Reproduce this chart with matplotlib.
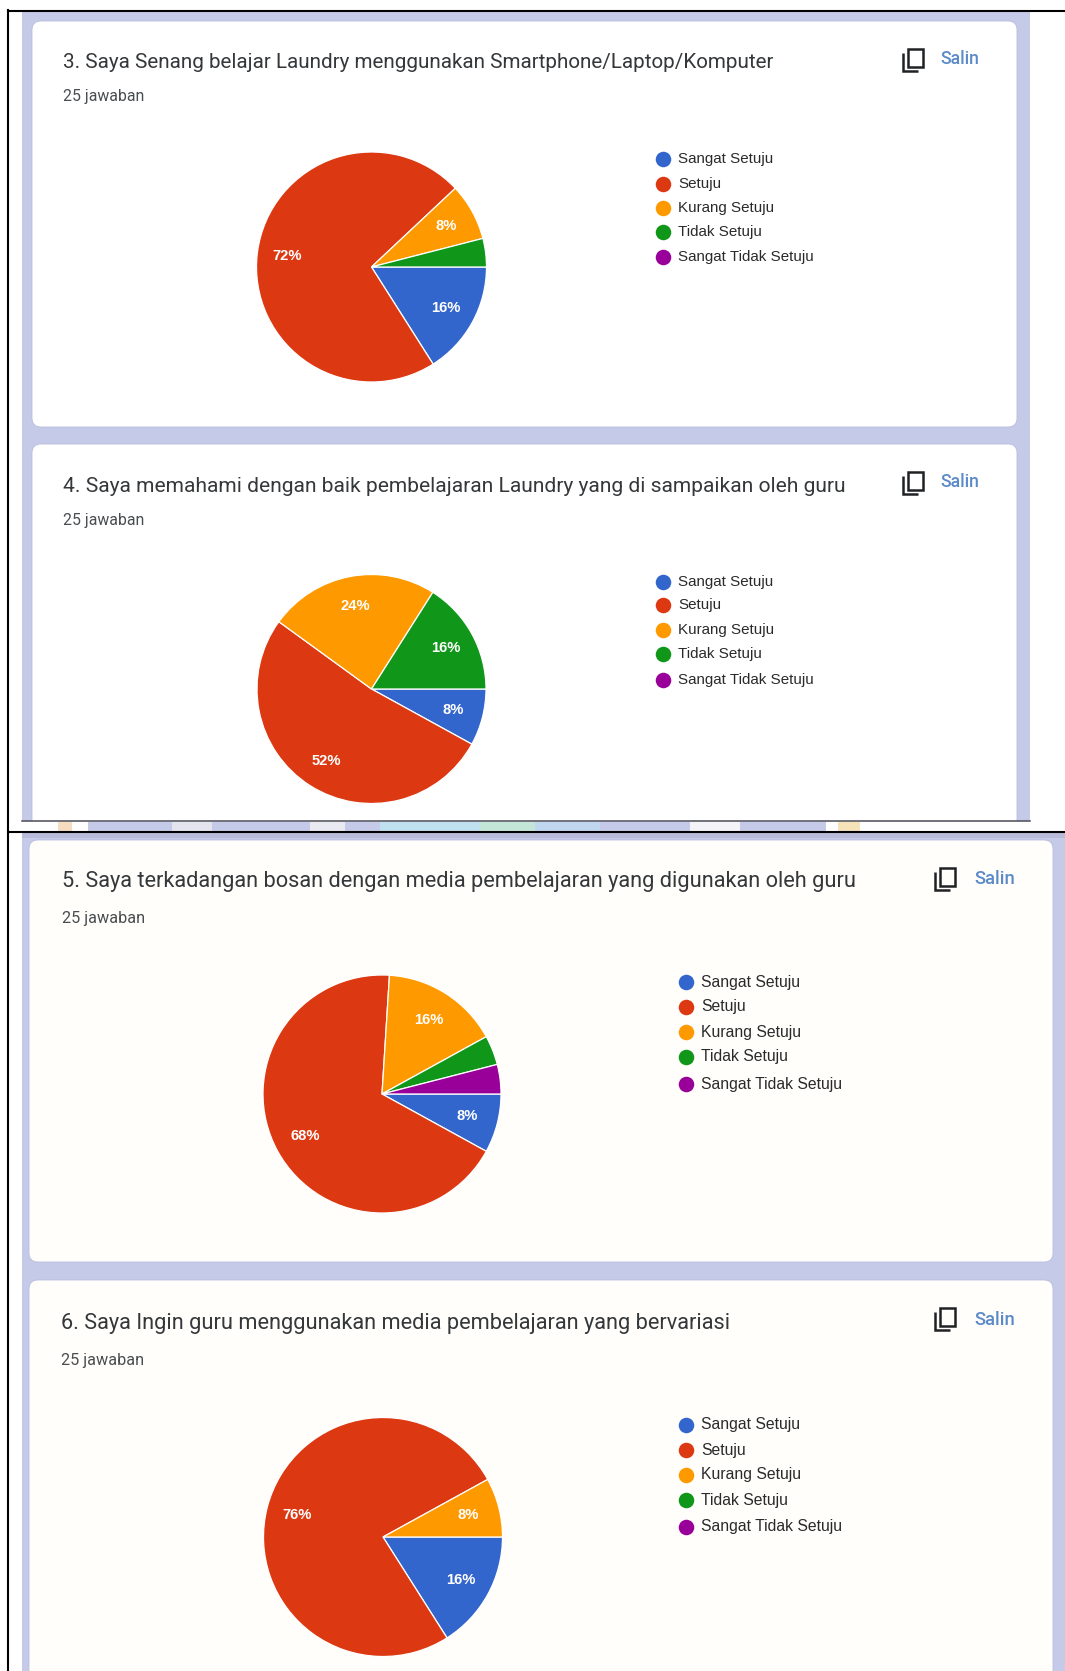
import matplotlib
matplotlib.use("Agg")
import matplotlib.pyplot as plt
from matplotlib.patches import FancyBboxPatch, Rectangle

W, H = 1065, 1671

# ---- data ----
legend_labels = ["Sangat Setuju", "Setuju", "Kurang Setuju", "Tidak Setuju", "Sangat Tidak Setuju"]
titles = [
    "3. Saya Senang belajar Laundry menggunakan Smartphone/Laptop/Komputer",
    "4. Saya memahami dengan baik pembelajaran Laundry yang di sampaikan oleh guru",
    "5. Saya terkadangan bosan dengan media pembelajaran yang digunakan oleh guru",
    "6. Saya Ingin guru menggunakan media pembelajaran yang bervariasi",
]
answers = "25 jawaban"
copy_label = "Salin"
q3_values = [16, 72, 8, 4, 0]
q4_values = [8, 52, 24, 16, 0]
q5_values = [8, 68, 16, 4, 4]
q6_values = [16, 76, 8, 0, 0]
series = [q3_values, q4_values, q5_values, q6_values]
colors = ["#3366CC", "#DC3912", "#FF9900", "#109618", "#990099"]

# ---- layout (pixels) ----
LAV = "#C5CAE9"
pie_geom = [(371.5, 267, 115), (371.5, 689, 114.5), (382, 1094, 119), (383, 1537, 119.5)]
legend_x = [(663, 678), (663, 678), (686, 701), (686, 701)]
legend_y = [[159, 184, 208, 232, 257], [582, 605, 630, 654, 680],
            [982, 1007, 1032, 1057, 1084], [1425, 1450, 1475, 1500, 1527]]
title_pos = [(63, 62), (63, 487), (62, 881), (61, 1323)]
title_size = [14.9, 15.1, 15.65, 15.65]
ans_pos = [(63, 97), (63, 520), (62, 918), (61, 1360)]
ans_size = [11.4, 11.4, 11.7, 11.7]
legend_size = [10.9, 10.9, 11.3, 11.3]
salin_pos = [(940, 59), (940, 482), (974, 879), (974, 1320)]
salin_size = [12.7, 12.7, 13.3, 13.3]
icon_x = [903, 903, 935, 935]
icon_y = [53, 476, 872, 1312]

plt.rcParams["font.family"] = ["Roboto", "DejaVu Sans"]
fig = plt.figure(figsize=(W / 100, H / 100), dpi=100, facecolor="white")
bg = fig.add_axes([0, 0, 1, 1])
bg.set_xlim(0, W)
bg.set_ylim(H, 0)
bg.axis("off")

def rect(x0, y0, x1, y1, c, z=1):
    bg.add_patch(Rectangle((x0, y0), x1 - x0, y1 - y0, fc=c, ec="none", zorder=z))

def card(x0, y0, x1, y1, c="white"):
    bg.add_patch(FancyBboxPatch((x0 + 9, y0 + 9), x1 - x0 - 18, y1 - y0 - 18,
                                boxstyle="round,pad=9,rounding_size=9",
                                fc=c, ec="#B9BEDD", lw=0.6, zorder=2))

# page backgrounds
rect(22, 11, 1030, 821, LAV)
rect(22, 832, W, H, LAV)
rect(22, 832, W, 838, "#B8BCDA", 1.5)
card(32, 21, 1017, 427)
card(32, 444, 1017, 831)
rect(22, 821, 1030, 832, "white", 3)
card(29, 840, 1053, 1262, "#FFFEFB")
card(29, 1280, 1053, 1720, "#FFFEFB")

# watermark strip between the two screenshots
strip = [(58, 72, "#F6DDBF"), (88, 172, LAV), (172, 212, "#E4E4EE"), (212, 310, LAV),
         (310, 345, "#E9E9F2"), (345, 380, LAV), (380, 480, "#BFE0EE"), (480, 535, "#C4E6D8"),
         (535, 600, "#BFD6EE"), (600, 690, LAV), (690, 740, "#F3F3F8"), (740, 826, LAV),
         (838, 860, "#F5E2B8")]
for a, b, c in strip:
    rect(a, 822, b, 831, c, 4)

# rule lines
bg.plot([22, 1030], [821, 821], color="#4A4A55", lw=1.1, zorder=6)
bg.plot([8, W], [11, 11], color="black", lw=1.5, zorder=6)
bg.plot([8, 8], [10, H], color="black", lw=1.5, zorder=6)
bg.plot([8, W], [832, 832], color="black", lw=1.5, zorder=6)

for i, vals in enumerate(series):
    # heading, count, copy icon and link
    bg.text(title_pos[i][0], title_pos[i][1], titles[i], fontsize=title_size[i], color="#35383B",
            va="center", ha="left", zorder=7)
    bg.text(ans_pos[i][0], ans_pos[i][1], answers, fontsize=ans_size[i], color="#4A4D50",
            va="center", ha="left", zorder=7)
    ix, iy = icon_x[i], icon_y[i]
    bg.add_patch(Rectangle((ix + 5, iy - 4), 15, 18, fc="none", ec="#202124", lw=1.8, zorder=7))
    bg.plot([ix, ix, ix + 15], [iy, iy + 18, iy + 18], color="#202124", lw=1.8, zorder=7,
            solid_joinstyle="miter", solid_capstyle="butt")
    bg.text(salin_pos[i][0], salin_pos[i][1], copy_label, fontsize=salin_size[i], color="#5B8AC9",
            va="center", ha="left", fontweight="medium", zorder=7)

    # legend
    mx, tx = legend_x[i]
    for lab, col, y in zip(legend_labels, colors, legend_y[i]):
        bg.scatter([mx], [y], s=125, color=col, linewidths=0, zorder=7)
        bg.text(tx, y, lab, fontsize=legend_size[i], family=["Liberation Sans", "DejaVu Sans"],
                color="#2A2A2A", va="center", ha="left", zorder=7)

    # pie
    cx, cy, r = pie_geom[i]
    pad = r * 1.05
    ax = fig.add_axes([(cx - pad) / W, 1 - (cy + pad) / H, 2 * pad / W, 2 * pad / H], zorder=5)
    ax.set_facecolor("none")
    shown = [(v, c) for v, c in zip(vals, colors) if v > 0]
    wedges, _, autotexts = ax.pie(
        [v for v, _ in shown], colors=[c for _, c in shown], startangle=0, counterclock=False,
        radius=1, autopct=lambda p: f"{p:.0f}%" if p >= 5 else "", pctdistance=0.74,
        wedgeprops=dict(edgecolor="white", linewidth=0.9),
        textprops=dict(color="white", fontsize=10.6, fontweight="bold",
                       family=["Liberation Sans", "DejaVu Sans"]))
    ax.set_xlim(-1.05, 1.05)
    ax.set_ylim(-1.05, 1.05)

fig.savefig("out.png", dpi=100)
